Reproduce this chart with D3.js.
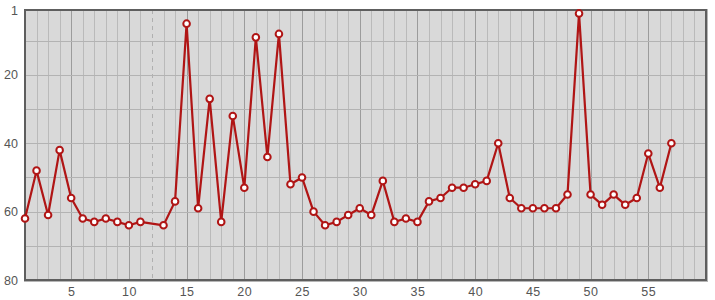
<!DOCTYPE html>
<html>
<head>
<meta charset="utf-8">
<script src="https://cdn.jsdelivr.net/npm/d3@7/dist/d3.min.js"></script>
<style>
  body { margin: 0; background: #fff; }
  text { font-family: "Liberation Sans", Arial, sans-serif; }
</style>
</head>
<body>
<script>
// data (null = no value on that day)
var days = d3.range(1, 58);
var ranks = [62, 48, 61, 42, 56, 62, 63, 62, 63, 64,
             63, null, 64, 57, 5, 59, 27, 63, 32, 53,
             9, 44, 8, 52, 50, 60, 64, 63, 61, 59,
             61, 51, 63, 62, 63, 57, 56, 53, 53, 52,
             51, 40, 56, 59, 59, 59, 59, 55, 2, 55,
             58, 55, 58, 56, 43, 53, 40];
var xTicks = [5, 10, 15, 20, 25, 30, 35, 40, 45, 50, 55];
var yTicks = [1, 20, 40, 60, 80];
var yGrid = [10, 20, 30, 40, 50, 60, 70];
var gapDays = [12];

var points = days.map(function (d, i) { return {x: d, y: ranks[i]}; })
    .filter(function (p) { return p.y !== null; });

var W = 715, H = 300;
var plot = {left: 25, right: 706, top: 10, bottom: 280};

var x = d3.scaleLinear().domain([1, 60]).range([plot.left, plot.right]);
var y = d3.scaleLinear().domain([1, 80]).range([plot.top, plot.bottom]);

var svg = d3.select("body").append("svg")
    .attr("width", W)
    .attr("height", H);

// plot background
svg.append("rect")
    .attr("x", plot.left)
    .attr("y", plot.top)
    .attr("width", plot.right - plot.left)
    .attr("height", plot.bottom - plot.top)
    .style("fill", "#d9d9d9");

// vertical grid, one per day, darker every 5
svg.append("g").selectAll("line")
    .data(d3.range(2, 60).filter(function (d) { return gapDays.indexOf(d) < 0; }))
    .enter().append("line")
    .attr("x1", function (d) { return Math.round(x(d)) + 0.5; })
    .attr("x2", function (d) { return Math.round(x(d)) + 0.5; })
    .attr("y1", plot.top)
    .attr("y2", plot.bottom)
    .style("stroke", function (d) { return d % 5 === 0 ? "#9c9c9c" : "#bababa"; })
    .style("stroke-width", 1);

// dashed line where a day is missing
svg.append("g").selectAll("line")
    .data(gapDays)
    .enter().append("line")
    .attr("x1", function (d) { return Math.round(x(d)) + 0.5; })
    .attr("x2", function (d) { return Math.round(x(d)) + 0.5; })
    .attr("y1", plot.top)
    .attr("y2", plot.bottom)
    .style("stroke", "#b0b0b0")
    .style("stroke-dasharray", "4,4");

// horizontal grid
svg.append("g").selectAll("line")
    .data(yGrid)
    .enter().append("line")
    .attr("x1", plot.left)
    .attr("x2", plot.right)
    .attr("y1", function (d) { return Math.round(y(d)) + 0.5; })
    .attr("y2", function (d) { return Math.round(y(d)) + 0.5; })
    .style("stroke", "#b3b3b3");

// frame: soft outer shadow + dark border
svg.append("rect")
    .attr("x", plot.left - 0.5)
    .attr("y", plot.top - 0.5)
    .attr("width", plot.right - plot.left + 2)
    .attr("height", plot.bottom - plot.top + 2)
    .style("fill", "none")
    .style("stroke", "#b5b5b5")
    .style("stroke-width", 1);
svg.append("rect")
    .attr("x", plot.left)
    .attr("y", plot.top)
    .attr("width", plot.right - plot.left)
    .attr("height", plot.bottom - plot.top)
    .style("fill", "none")
    .style("stroke", "#5e5e5e")
    .style("stroke-width", 2);

// axes labels
var yAxis = d3.axisLeft(y).tickValues(yTicks).tickSize(0).tickPadding(7);
svg.append("g")
    .attr("transform", "translate(" + plot.left + ",0)")
    .call(yAxis)
    .call(function (g) { g.select(".domain").remove(); })
    .selectAll("text")
    .style("font-size", "12.5px")
    .style("font-family", "Liberation Sans, Arial, sans-serif")
    .style("fill", "#555");

var xAxis = d3.axisBottom(x).tickValues(xTicks).tickSize(0).tickPadding(7);
svg.append("g")
    .attr("transform", "translate(0," + plot.bottom + ")")
    .call(xAxis)
    .call(function (g) { g.select(".domain").remove(); })
    .selectAll("text")
    .style("font-size", "12.5px")
    .style("font-family", "Liberation Sans, Arial, sans-serif")
    .style("fill", "#555")
    .style("letter-spacing", "0.5px");

// the series
var line = d3.line()
    .x(function (d) { return x(d.x); })
    .y(function (d) { return y(d.y); });

svg.append("path")
    .datum(points)
    .attr("d", line)
    .style("fill", "none")
    .style("stroke", "#b01515")
    .style("stroke-width", 2.2)
    .style("stroke-linejoin", "round");

svg.append("g").selectAll("circle")
    .data(points)
    .enter().append("circle")
    .attr("cx", function (d) { return x(d.x); })
    .attr("cy", function (d) { return y(d.y); })
    .attr("r", 3.3)
    .style("fill", "#fff")
    .style("stroke", "#b01515")
    .style("stroke-width", 2);
</script>
</body>
</html>
